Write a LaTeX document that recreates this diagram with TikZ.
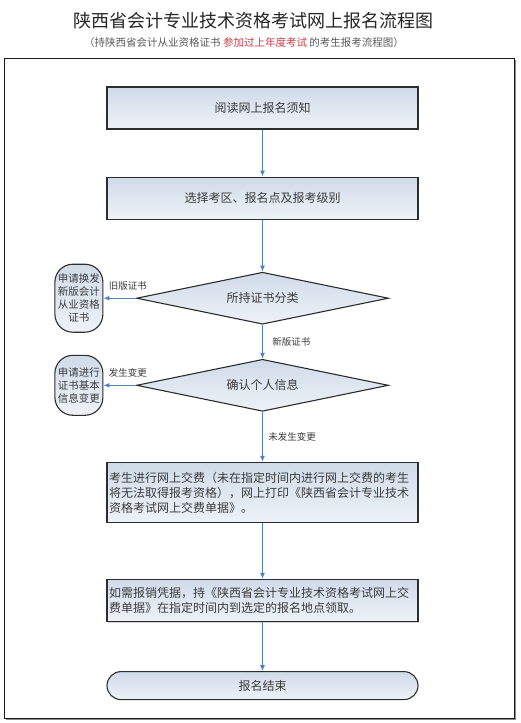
\documentclass[tikz,border=0pt]{standalone}
\usepackage{fontspec}
\setmainfont{Noto Sans CJK SC}
\usetikzlibrary{arrows.meta,positioning,shapes.geometric,shadows}
\definecolor{flowline}{RGB}{79,129,189}
\definecolor{flowdraw}{RGB}{45,45,45}
\definecolor{flowtop}{RGB}{208,219,233}
\definecolor{flowbot}{RGB}{238,242,247}
\definecolor{flowtext}{RGB}{60,60,60}
\definecolor{flowred}{RGB}{205,60,70}
\tikzset{
  procbox/.style={
    rectangle, draw=flowdraw, line width=1.1pt,
    top color=flowtop, bottom color=flowbot,
    drop shadow={shadow xshift=1pt, shadow yshift=-1pt, opacity=0.35},
    minimum width=311pt, minimum height=42pt,
    align=center, text=flowtext, font=\fontsize{12}{15}\selectfont
  },
  notebox/.style={
    procbox, text width=307pt, inner xsep=2pt, align=left
  },
  decision/.style={
    diamond, draw=flowdraw, line width=1.1pt,
    top color=flowtop, bottom color=flowbot,
    aspect=4.8, inner sep=0pt,
    minimum width=252pt, minimum height=52pt,
    text=flowtext, font=\fontsize{12}{15}\selectfont
  },
  sidebox/.style={
    rectangle, rounded corners=18pt, draw=flowdraw, line width=1.1pt,
    top color=flowtop, bottom color=flowbot,
    minimum width=48pt, inner sep=1pt,
    align=center, text=flowtext, font=\fontsize{10.5}{13}\selectfont
  },
  endbox/.style={
    rectangle, rounded corners=14pt, draw=flowdraw, line width=1.1pt,
    top color=flowtop, bottom color=flowbot,
    minimum width=311pt, minimum height=28pt,
    text=flowtext, font=\fontsize{12}{15}\selectfont
  },
  edgelabel/.style={text=flowtext, font=\fontsize{9.5}{11}\selectfont},
  flow/.style={-{Latex[length=6pt,width=5pt]}, line width=1.1pt, draw=flowline}
}

\begin{document}
\begin{tikzpicture}[x=1pt,y=1pt]
  \useasboundingbox (0,0) rectangle (520,-723);

  % Heading
  \node[text=black!85, font=\fontsize{18}{20}\selectfont] (title) at (253.5,-21)
    {陕西省会计专业技术资格考试网上报名流程图};
  \node[text=black!65, font=\fontsize{10.5}{12}\selectfont] (subtitle) at (244,-43)
    {（持陕西省会计从业资格证书 \textcolor{flowred}{参加过上年度考试} 的考生报考流程图）};

  % Frame with a soft shadow
  \fill[black!45] (5.5,-59.5) rectangle (515.5,-719.5);
  \draw[black!90, fill=white, line width=0.8pt] (4,-58) rectangle (514,-718);

  % Main column
  \node[procbox] (read) at (262.5,-108) {阅读网上报名须知};
  \node[procbox, below=47pt of read] (select) {选择考区、报名点及报考级别};
  \node[decision, below=52pt of select] (certtype) {所持证书分类};
  \node[decision, below=34pt of certtype] (confirm) {确认个人信息};
  \node[notebox, minimum height=60pt, below=50pt of confirm] (pay)
    {考生进行网上交费（未在指定时间内进行网上交费的考生\\
     将无法取得报考资格），网上打印《陕西省会计专业技术\\
     资格考试网上交费单据》。};
  \node[notebox, below=56pt of pay] (receipt)
    {如需报销凭据，持《陕西省会计专业技术资格考试网上交\\
     费单据》在指定时间内到选定的报名地点领取。};
  \node[endbox, below=49pt of receipt] (finish) {报名结束};

  % Side branches
  \node[sidebox, minimum height=68pt, left=32.5pt of certtype] (renew)
    {申请换发\\新版会计\\从业资格\\证书};
  \node[sidebox, minimum height=60pt, left=32.5pt of confirm] (change)
    {申请进行\\证书基本\\信息变更};

  % Connectors
  \draw[flow] (read) -- (select);
  \draw[flow] (select) -- (certtype);
  \draw[flow] (certtype) -- node[edgelabel, right=6pt] {新版证书} (confirm);
  \draw[flow] (confirm) -- node[edgelabel, right=2pt] {未发生变更} (pay);
  \draw[flow] (pay) -- (receipt);
  \draw[flow] (receipt) -- (finish);
  \draw[flow] (certtype.west) -- node[edgelabel, pos=0.25, above=4pt] {旧版证书} (renew.east);
  \draw[flow] (confirm.west) -- node[edgelabel, pos=0.25, above=4pt] {发生变更} (change.east);

\end{tikzpicture}
\end{document}
